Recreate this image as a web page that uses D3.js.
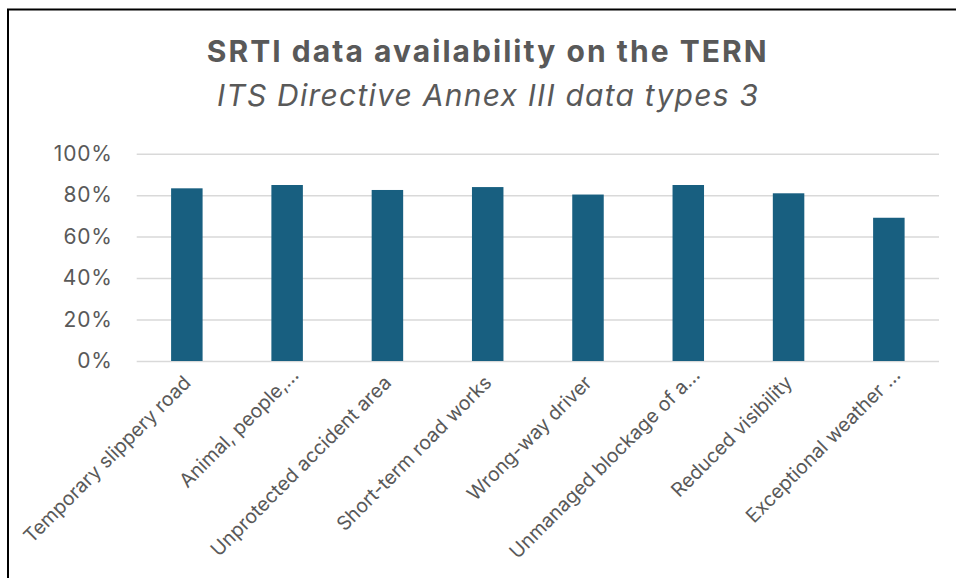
<!DOCTYPE html>
<html>
<head>
<meta charset="utf-8">
<script src="https://cdn.jsdelivr.net/npm/d3@7"></script>
<style>
  html, body { margin: 0; padding: 0; background: #fff; }
  svg { display: block; }
</style>
</head>
<body>
<div id="chart"></div>
<script>
// data
var categories = [
	"Temporary slippery road",
	"Animal, people,…",
	"Unprotected accident area",
	"Short-term road works",
	"Wrong-way driver",
	"Unmanaged blockage of a…",
	"Reduced visibility",
	"Exceptional weather …"
];
var availability = [0.833, 0.849, 0.825, 0.839, 0.803, 0.849, 0.809, 0.691];
var yTicks = [0, 0.2, 0.4, 0.6, 0.8, 1];

var titleText = "SRTI data availability on the TERN";
var subtitleText = "ITS Directive Annex III data types 3";

var W = 956, H = 578;
var font = "Inter, 'Open Sans', 'DejaVu Sans', sans-serif";
var textColor = '#595959';
var barColor = '#185f80';
var gridColor = '#d9d9d9';

var plot = {left: 136.7, right: 939, top: 153.7, bottom: 361};

var svg = d3.select('#chart').append('svg')
	.attr('width', W)
	.attr('height', H);

svg.append('rect')//background
	.attr('width', W)
	.attr('height', H)
	.attr('fill', '#fff');

svg.append('text')//title
	.attr('x', 486.7)
	.attr('y', 62.3)
	.attr('text-anchor', 'middle')
	.attr('font-family', font)
	.attr('font-weight', 'bold')
	.attr('font-size', 30)
	.attr('textLength', 560)
	.attr('lengthAdjust', 'spacing')
	.attr('fill', textColor)
	.text(titleText);

svg.append('text')//subtitle
	.attr('x', 487.5)
	.attr('y', 106)
	.attr('text-anchor', 'middle')
	.attr('font-family', font)
	.attr('font-style', 'italic')
	.attr('font-size', 30)
	.attr('textLength', 541)
	.attr('lengthAdjust', 'spacing')
	.attr('fill', textColor)
	.text(subtitleText);

var x = d3.scaleBand()
	.domain(categories)
	.range([plot.left, plot.right])
	.paddingInner(0.686)
	.paddingOuter(0.343);

var y = d3.scaleLinear()
	.domain([0, 1])
	.range([plot.bottom, plot.top]);

// y axis + gridlines
var yAxis = svg.append('g')
	.attr('transform', 'translate(' + plot.left + ',0)')
	.call(d3.axisLeft(y)
		.tickValues(yTicks)
		.tickFormat(d3.format('.0%'))
		.tickSize(-(plot.right - plot.left))
		.tickPadding(24));
yAxis.select('.domain').remove();
yAxis.selectAll('.tick line')
	.attr('stroke', gridColor)
	.attr('stroke-width', 1.5);
yAxis.selectAll('.tick text')
	.attr('font-family', font)
	.attr('font-size', 21)
	.attr('letter-spacing', 0.8)
	.attr('fill', textColor);

// bars
svg.append('g')
	.selectAll('rect')
	.data(availability)
	.join('rect')
	.attr('x', function(d, i){ return x(categories[i]); })
	.attr('y', function(d){ return y(d); })
	.attr('width', x.bandwidth())
	.attr('height', function(d){ return y(0) - y(d); })
	.attr('fill', barColor);

// x axis labels, rotated
var xAxis = svg.append('g')
	.attr('transform', 'translate(0,' + plot.bottom + ')')
	.call(d3.axisBottom(x).tickSize(0));
xAxis.select('.domain').remove();
xAxis.selectAll('.tick text')
	.attr('x', 0)
	.attr('y', 0)
	.attr('dy', 0)
	.attr('dx', function(d){ return d.slice(-1) == '…' ? 11 : 0; })
	.attr('transform', 'translate(5,23) rotate(-45)')
	.attr('text-anchor', 'end')
	.attr('font-family', font)
	.attr('font-size', 19.5)
	.attr('fill', textColor);

svg.append('rect')//frame, only top and left edges fall inside the picture
	.attr('x', 8)
	.attr('y', 9.5)
	.attr('width', W + 20)
	.attr('height', H + 20)
	.attr('fill', 'none')
	.attr('stroke', '#000')
	.attr('stroke-width', 2);
</script>
</body>
</html>
